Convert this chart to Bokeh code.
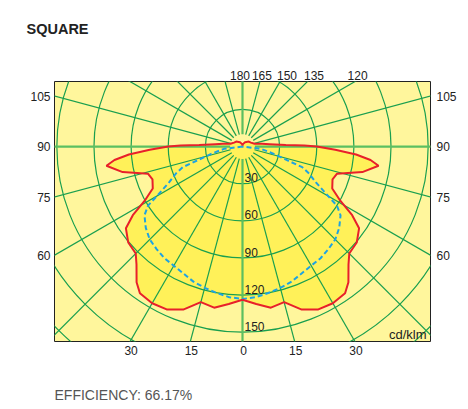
import numpy as np
from bokeh.plotting import figure
from bokeh.models import LinearAxis, FixedTicker, Range1d, Title
from bokeh.core.properties import value
from bokeh.embed import file_html
from bokeh.resources import INLINE

# ---------------- data ----------------
# red curve: gamma (deg from nadir) -> intensity (cd/klm), mirrored left/right
gamma_red = [0, 5, 10, 15, 20, 25, 30, 35, 38, 42, 45, 50, 55, 58, 61, 65, 70, 74, 78,
             82, 84, 86, 88, 90, 91, 92, 95, 98, 103, 115, 128, 150, 170, 180]
r_red = [123.6, 127.5, 132, 130, 140, 145, 146, 144.5, 139, 128, 122, 120.5, 115, 104.5,
         90.5, 80, 77.4, 79.5, 99, 111, 104, 92, 75, 60, 50, 35, 22, 16, 10, 7.5, 6.5, 4, 2, 1]
# blue dashed curve
gamma_blue = [0, 5, 10, 15, 20, 25, 30, 35, 40, 45, 50, 55, 58, 60, 64, 68, 71, 73, 77, 83, 90]
r_blue = [123, 122, 120, 118, 116, 113, 111, 110, 108, 106, 102, 96.7, 90, 80, 66, 58, 51,
          38, 26, 15, 0]

circle_values = [30, 60, 90, 120, 150, 180, 210]
circle_labels = ["30", "60", "90", "120", "150"]
left_angles = [105, 90, 75, 60]
bottom_angles = [-30, -15, 0, 15, 30]
top_angles = [180, 165, 150, 135, 120]
title_text = "SQUARE"
unit_text = "cd/klm"
efficiency_text = "EFFICIENCY: 66.17%"

# ---------------- layout ----------------
X_HALF = 151.9
Y_TOP = 52.5
Y_BOT = -157.3
FW, FH = 376, 260
PX = FW / (2 * X_HALF)

BG = "#fff69c"
FILL = "#fff159"
GRID = "#1a9f4f"
AXGREEN = "#5cbf60"
RED = "#e8202a"
BLUE = "#1ea3e2"
FONT = "Liberation Sans"

p = figure(frame_width=FW, frame_height=FH,
           x_range=Range1d(-X_HALF, X_HALF), y_range=Range1d(Y_BOT, Y_TOP),
           x_axis_location=None, y_axis_location=None,
           min_border_left=54, min_border_top=81, min_border_right=30, min_border_bottom=64,
           output_backend="svg", toolbar_location=None,
           background_fill_color=BG, border_fill_color="white")
p.outline_line_color = "#222222"
p.outline_line_width = 1
p.xgrid.visible = False
p.ygrid.visible = False


def polar(g_list, r_list, side):
    g = np.radians(np.asarray(g_list, dtype=float))
    r = np.asarray(r_list, dtype=float)
    return side * r * np.sin(g), -r * np.cos(g)


# filled area inside red curve
xr, yr = polar(gamma_red, r_red, 1)
xl, yl = polar(gamma_red, r_red, -1)
red_x = np.concatenate([xr, xl[::-1]])
red_y = np.concatenate([yr, yl[::-1]])
p.patch(red_x, red_y, fill_color=FILL, line_color=None)

# grid circles
p.circle(x=[0] * len(circle_values), y=[0] * len(circle_values), radius=circle_values,
         fill_color=None, line_color=GRID, line_width=1.2)

# radial lines every 15 deg
angs = np.arange(0, 360, 15)
r_in, r_out = 10, 320
minor = [a for a in angs if a % 90 != 0]
major = [a for a in angs if a % 90 == 0]
for lst, col, lw in ((minor, GRID, 1.2), (major, AXGREEN, 2.2)):
    a = np.radians(lst)
    p.segment(x0=r_in * np.sin(a), y0=-r_in * np.cos(a),
              x1=r_out * np.sin(a), y1=-r_out * np.cos(a),
              line_color=col, line_width=lw)

# curves
bx_r, by_r = polar(gamma_blue, r_blue, 1)
bx_l, by_l = polar(gamma_blue, r_blue, -1)
p.line(np.concatenate([bx_l[::-1], bx_r]), np.concatenate([by_l[::-1], by_r]),
       line_color=BLUE, line_width=2, line_dash="5 3")
p.line(red_x, red_y, line_color=RED, line_width=2)

# radial value labels
p.text(x=[0] * len(circle_labels), y=[-float(t) for t in circle_labels], text=circle_labels,
       x_offset=2, y_offset=-1.5, text_align="left", text_baseline="bottom",
       text_font=value(FONT), text_font_size="12px", text_color="#222222")

# unit label
p.text(x=[X_HALF], y=[Y_BOT], text=[unit_text], x_offset=-4, y_offset=0,
       text_align="right", text_baseline="bottom",
       text_font=value(FONT), text_font_size="13px", text_color="#222222")


# ---------------- angle axes ----------------
def make_axis(ticks, labels, standoff):
    ticks = [round(float(t), 3) for t in ticks]
    ax = LinearAxis(ticker=FixedTicker(ticks=ticks),
                    major_label_overrides={t: l for t, l in zip(ticks, labels)})
    ax.axis_line_color = None
    ax.major_tick_line_color = None
    ax.minor_tick_line_color = None
    ax.major_tick_in = 0
    ax.major_tick_out = 0
    ax.major_label_standoff = standoff
    ax.major_label_text_font = FONT
    ax.major_label_text_font_size = "12px"
    ax.major_label_text_color = "#222222"
    return ax


side_ticks = [-X_HALF * np.cos(np.radians(a)) / np.sin(np.radians(a)) for a in left_angles]
side_labels = [str(a) for a in left_angles]
p.add_layout(make_axis(side_ticks, side_labels, 4), "left")
p.add_layout(make_axis(side_ticks, side_labels, 6), "right")

bot_ticks = [-Y_BOT * np.tan(np.radians(a)) + 1 / PX for a in bottom_angles]
bot_labels = [str(abs(a)) for a in bottom_angles]
p.add_layout(make_axis(bot_ticks, bot_labels, 4), "below")

top_nudge_px = [-2.5, 2, 7, 6.5, 2.5]
top_ticks = [-Y_TOP * np.tan(np.radians(a)) + n / PX for a, n in zip(top_angles, top_nudge_px)]
top_labels = [str(a) for a in top_angles]
p.add_layout(make_axis(top_ticks, top_labels, 2), "above")

# ---------------- title / footer ----------------
p.add_layout(Title(text=title_text + "\n", align="left", offset=-28, vertical_align="top",
                   standoff=25, text_font=FONT, text_font_size="14.5px",
                   text_font_style="bold", text_color="#222222"), "above")
p.add_layout(Title(text="\n" + efficiency_text, align="left", offset=0, vertical_align="bottom",
                   standoff=4, text_line_height=1.6, text_font=FONT, text_font_size="14px",
                   text_font_style="normal", text_color="#555555"), "below")

open("out.html", "w").write(file_html(p, INLINE))
